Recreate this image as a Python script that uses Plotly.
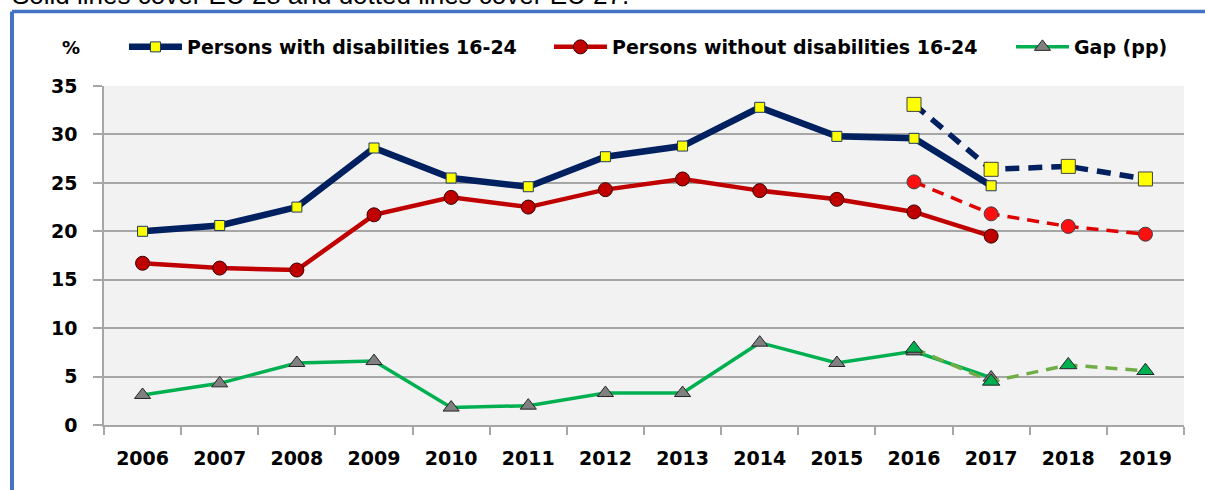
import plotly.graph_objects as go

# Youth indicator (%), EU 28 series (solid) and EU 27 series (dashed)
years = ["2006", "2007", "2008", "2009", "2010", "2011", "2012",
         "2013", "2014", "2015", "2016", "2017", "2018", "2019"]
years_eu28 = years[:12]
years_eu27 = ["2016", "2017", "2018", "2019"]

with_dis_eu28 = [20.0, 20.6, 22.5, 28.6, 25.5, 24.6, 27.7, 28.8, 32.8, 29.8, 29.6, 24.7]
without_dis_eu28 = [16.7, 16.2, 16.0, 21.7, 23.5, 22.5, 24.3, 25.4, 24.2, 23.3, 22.0, 19.5]
gap_eu28 = [3.1, 4.3, 6.4, 6.6, 1.8, 2.0, 3.3, 3.3, 8.5, 6.4, 7.6, 4.9]

with_dis_eu27 = [33.1, 26.4, 26.7, 25.4]
without_dis_eu27 = [25.1, 21.8, 20.5, 19.7]
gap_eu27 = [7.9, 4.5, 6.2, 5.6]

y_ticks = [0, 5, 10, 15, 20, 25, 30, 35]

FONT = "DejaVu Sans"
NAVY = "#002060"
DARKRED = "#C00000"
GREEN = "#00B050"
OLIVE = "#70AD47"

fig = go.Figure()

# EU 28 (solid lines), each with its own legend entry box
fig.add_trace(go.Scatter(
    x=years_eu28, y=with_dis_eu28, name="Persons with disabilities 16-24",
    mode="lines+markers", legend="legend",
    line=dict(color=NAVY, width=6.5),
    marker=dict(symbol="square", size=10, color="#FFFF00",
                line=dict(color="#1F3864", width=1)),
))
fig.add_trace(go.Scatter(
    x=years_eu28, y=without_dis_eu28, name="Persons without disabilities 16-24",
    mode="lines+markers", legend="legend2",
    line=dict(color=DARKRED, width=4.5),
    marker=dict(symbol="circle", size=14, color=DARKRED,
                line=dict(color="#3A0000", width=1)),
))
fig.add_trace(go.Scatter(
    x=years_eu28, y=gap_eu28, name="Gap (pp)",
    mode="lines+markers", legend="legend3",
    line=dict(color=GREEN, width=3.5),
    marker=dict(symbol="triangle-up", size=14, color="#808080",
                line=dict(color="#262626", width=1)),
))

# EU 27 (dashed lines)
fig.add_trace(go.Scatter(
    x=years_eu27, y=with_dis_eu27, name="Persons with disabilities 16-24 (EU 27)",
    mode="lines+markers", showlegend=False,
    line=dict(color=NAVY, width=5.5, dash="14px,9px"),
    marker=dict(symbol="square", size=14, color="#FFFF00",
                line=dict(color="#404040", width=1)),
))
fig.add_trace(go.Scatter(
    x=years_eu27, y=without_dis_eu27, name="Persons without disabilities 16-24 (EU 27)",
    mode="lines+markers", showlegend=False,
    line=dict(color="#E00000", width=3.5, dash="12px,8px"),
    marker=dict(symbol="circle", size=14, color="#FF1010",
                line=dict(color="#404040", width=1)),
))
fig.add_trace(go.Scatter(
    x=years_eu27, y=gap_eu27, name="Gap (pp) (EU 27)",
    mode="lines+markers", showlegend=False,
    line=dict(color=OLIVE, width=3.5, dash="12px,8px"),
    marker=dict(symbol="triangle-up", size=15, color=GREEN,
                line=dict(color="#262626", width=1)),
))

# Outer frame (top and left edges) in the page
frame_x = -0.0852
frame_top = 1.2198
fig.add_shape(type="line", xref="paper", yref="paper",
              x0=frame_x, x1=1.03, y0=frame_top, y1=frame_top,
              line=dict(color="#4472C4", width=3.5))
fig.add_shape(type="line", xref="paper", yref="paper",
              x0=frame_x, x1=frame_x, y0=frame_top, y1=-0.2,
              line=dict(color="#4472C4", width=4))

# Note above the frame
fig.add_annotation(
    text="Solid lines cover EU 28 and dotted lines cover EU 27.",
    xref="paper", yref="paper", x=-0.087, y=1.2192,
    xanchor="left", yanchor="bottom", showarrow=False,
    font=dict(family="Liberation Sans", size=26, color="#000000"),
)

# Unit label
fig.add_annotation(
    text="%", xref="paper", yref="paper", x=-0.031, y=1.115,
    xanchor="center", yanchor="middle", showarrow=False,
    font=dict(family=FONT, size=18, color="#000000", weight="bold"),
)

legend_style = dict(
    orientation="h", y=1.115, xanchor="left", yanchor="middle",
    font=dict(family=FONT, size=19, color="#000000", weight="bold"),
    bgcolor="rgba(0,0,0,0)", itemwidth=53,
)

tick_font = dict(family=FONT, size=19, color="#000000", weight="bold")

fig.update_layout(
    width=1205, height=490,
    margin=dict(l=104, r=21, t=86, b=65),
    paper_bgcolor="#FFFFFF",
    plot_bgcolor="#F2F2F2",
    showlegend=True,
    legend=dict(x=0.0185, **legend_style),
    legend2=dict(x=0.412, **legend_style),
    legend3=dict(x=0.8398, **legend_style),
    xaxis=dict(
        type="category", categoryorder="array", categoryarray=years,
        range=[-0.5, 13.5], showgrid=False,
        showline=True, linecolor="#A6A6A6", linewidth=1.5,
        ticks="outside", tickson="boundaries", ticklen=8,
        tickcolor="#A6A6A6", tickwidth=1.5,
        ticklabelstandoff=15,
        tickfont=tick_font,
        fixedrange=True,
    ),
    yaxis=dict(
        range=[0, 35], tickvals=y_ticks, ticktext=[str(v) for v in y_ticks],
        showgrid=True, gridcolor="#A6A6A6", gridwidth=1.5,
        showline=True, linecolor="#A6A6A6", linewidth=1.5,
        zeroline=False,
        ticks="outside", ticklen=9, tickcolor="#A6A6A6", tickwidth=1.5,
        ticklabelstandoff=12,
        tickfont=tick_font,
        fixedrange=True,
    ),
)

fig.write_html("out.html")
